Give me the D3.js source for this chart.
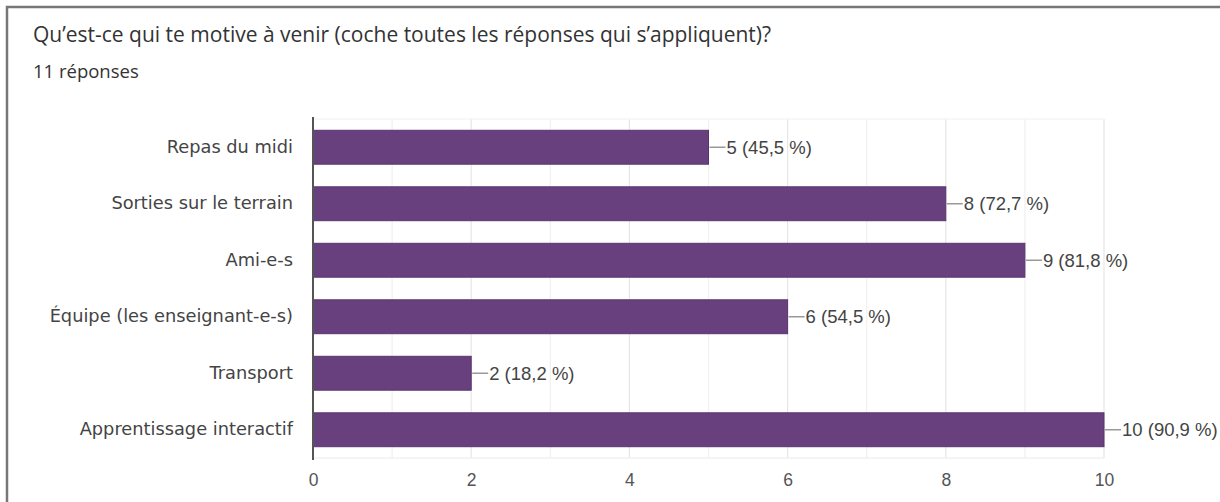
<!DOCTYPE html>
<html>
<head>
<meta charset="utf-8">
<script src="https://cdn.jsdelivr.net/npm/d3@7"></script>
<style>
  body { margin: 0; background: #fff; }
  svg text { font-family: "Open Sans", sans-serif; }
</style>
</head>
<body>
<svg id="chart" width="1220" height="502"></svg>
<script>
// data
var categories = ["Repas du midi", "Sorties sur le terrain", "Ami-e-s",
    "Équipe (les enseignant-e-s)", "Transport", "Apprentissage interactif"];
var counts = [5, 8, 9, 6, 2, 10];
var percents = ["45,5", "72,7", "81,8", "54,5", "18,2", "90,9"];
var xTicks = [0, 2, 4, 6, 8, 10];
var title = "Qu’est-ce qui te motive à venir (coche toutes les réponses qui s’appliquent)?";
var subtitle = "11 réponses";

var svg = d3.select("#chart");

// card frame (runs off right / bottom edge)
svg.append("rect")
    .attr("x", 7).attr("y", 7)
    .attr("width", 1240).attr("height", 520)
    .attr("fill", "#fff")
    .attr("stroke", "#777")
    .attr("stroke-width", 2.5);

svg.append("text")
    .attr("x", 33).attr("y", 42)
    .attr("font-size", 21)
    .attr("fill", "#333")
    .text(title);

svg.append("text")
    .attr("x", 33).attr("y", 78)
    .attr("font-size", 18.5)
    .attr("fill", "#333")
    .text(subtitle);

var margin = {left: 313, top: 119, right: 1104, bottom: 458};

var x = d3.scaleLinear().domain([0, 10]).range([margin.left, margin.right]);
var y = d3.scaleBand().domain(categories).range([margin.top, margin.bottom]).paddingInner(0.4).paddingOuter(0.2);

// grid
var g = svg.append("g");
g.selectAll(".grid")
    .data(d3.range(0, 11))
    .enter().append("line")
    .attr("x1", d => x(d)).attr("x2", d => x(d))
    .attr("y1", margin.top).attr("y2", margin.bottom)
    .attr("stroke", d => d % 2 === 0 ? "#e6e6e6" : "#f0f0f0")
    .attr("stroke-width", 1.2);
g.append("line")
    .attr("x1", margin.left).attr("x2", margin.right)
    .attr("y1", margin.top).attr("y2", margin.top)
    .attr("stroke", "#f0f0f0");
g.append("line")
    .attr("x1", margin.left).attr("x2", margin.right)
    .attr("y1", margin.bottom).attr("y2", margin.bottom)
    .attr("stroke", "#eaeaea");

// bars
svg.selectAll(".bar")
    .data(categories)
    .enter().append("rect")
    .attr("class", "bar")
    .attr("x", x(0))
    .attr("y", d => y(d))
    .attr("width", (d, i) => x(counts[i]) - x(0))
    .attr("height", y.bandwidth())
    .attr("fill", "#68407e")
    .attr("stroke", "#5a336f")
    .attr("stroke-width", 1);

// leader lines + value labels
svg.selectAll(".lead")
    .data(categories)
    .enter().append("line")
    .attr("x1", (d, i) => x(counts[i]) + 1)
    .attr("x2", (d, i) => x(counts[i]) + 17)
    .attr("y1", d => y(d) + y.bandwidth() / 2)
    .attr("y2", d => y(d) + y.bandwidth() / 2)
    .attr("stroke", "#999")
    .attr("stroke-width", 1.5);

svg.selectAll(".val")
    .data(categories)
    .enter().append("text")
    .attr("x", (d, i) => x(counts[i]) + 18)
    .attr("y", d => y(d) + y.bandwidth() / 2)
    .attr("dy", "0.35em")
    .attr("font-size", 18.5)
    .style("font-family", "'Liberation Sans', Arial, sans-serif")
    .attr("fill", "#444")
    .text((d, i) => counts[i] + " (" + percents[i] + " %)");

// category axis
var yAxis = d3.axisLeft(y).tickSize(0).tickPadding(20);
var ya = svg.append("g")
    .attr("transform", "translate(" + margin.left + ",0)")
    .call(yAxis);
ya.select(".domain").remove();
ya.selectAll("text").attr("font-size", 17.8).attr("fill", "#444")
    .style("font-family", "'DejaVu Sans', sans-serif");

svg.append("line")
    .attr("x1", margin.left).attr("x2", margin.left)
    .attr("y1", margin.top - 2).attr("y2", margin.bottom + 2)
    .attr("stroke", "#555").attr("stroke-width", 2);

// value axis
var xAxis = d3.axisBottom(x).tickValues(xTicks).tickSize(0).tickPadding(16);
var xa = svg.append("g")
    .attr("transform", "translate(0," + margin.bottom + ")")
    .call(xAxis);
xa.select(".domain").remove();
xa.selectAll("text").attr("font-size", 17.5).attr("fill", "#555")
    .style("font-family", "'Liberation Sans', Arial, sans-serif");
</script>
</body>
</html>
